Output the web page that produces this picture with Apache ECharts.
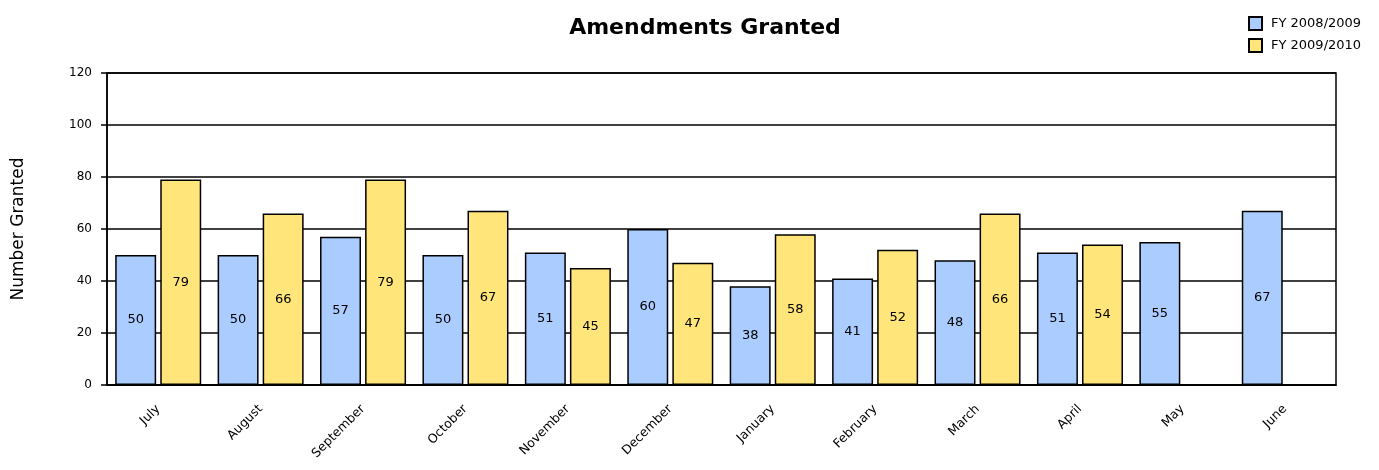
<!DOCTYPE html>
<html>
<head>
<meta charset="utf-8">
<script src="https://cdn.jsdelivr.net/npm/echarts@6/dist/echarts.min.js"></script>
<style>
  html, body { margin: 0; padding: 0; background: #fff; }
  #chart { width: 1379px; height: 470px; }
</style>
</head>
<body>
<div id="chart"></div>
<script>
// Monthly amendments granted, fiscal year order (July to June)
const months = ['July', 'August', 'September', 'October', 'November', 'December',
                'January', 'February', 'March', 'April', 'May', 'June'];
const fy0809 = [50, 50, 57, 50, 51, 60, 38, 41, 48, 51, 55, 67];
const fy0910 = [79, 66, 79, 67, 45, 47, 58, 52, 66, 54, null, null];
const seriesNames = ['FY 2008/2009', 'FY 2009/2010'];
const yTicks = { min: 0, max: 120, interval: 20 };

const FONT = '"DejaVu Sans", Verdana, sans-serif';

const barLabel = {
  show: true,
  position: 'inside',
  color: '#000',
  fontFamily: FONT,
  fontSize: 13
};

const chart = echarts.init(document.getElementById('chart'), null, { renderer: 'canvas' });
chart.setOption({
  animation: false,
  backgroundColor: '#fff',
  title: {
    text: 'Amendments Granted',
    left: 700,
    textAlign: 'center',
    top: 12,
    textStyle: { fontFamily: FONT, fontSize: 22, fontWeight: 'bold', color: '#000' }
  },
  legend: {
    orient: 'vertical',
    left: 1243,
    top: 11,
    itemWidth: 13,
    itemHeight: 13,
    itemGap: 7,
    icon: 'rect',
    textStyle: { fontFamily: FONT, fontSize: 13, color: '#000', padding: [0, 0, 0, 4] },
    data: seriesNames
  },
  grid: {
    left: 107, right: 43, top: 73, bottom: 85,
    show: true, borderColor: '#000', borderWidth: 1.5, backgroundColor: 'transparent'
  },
  xAxis: {
    type: 'category',
    data: months,
    boundaryGap: true,
    axisLine: { lineStyle: { color: '#000', width: 1.5 } },
    axisTick: { show: false },
    axisLabel: {
      rotate: 45, margin: 22, interval: 0, padding: [8, 0, 0, 0],
      fontFamily: FONT, fontSize: 12.5, color: '#000'
    }
  },
  yAxis: {
    type: 'value',
    min: yTicks.min, max: yTicks.max, interval: yTicks.interval,
    name: 'Number Granted',
    nameLocation: 'middle',
    nameRotate: 90,
    nameGap: 80,
    nameTextStyle: { fontFamily: FONT, fontSize: 17, color: '#000' },
    axisLine: { show: true, lineStyle: { color: '#000', width: 1.5 } },
    axisTick: { show: true, length: 6, lineStyle: { color: '#000', width: 1.5 } },
    axisLabel: { margin: 15, fontFamily: FONT, fontSize: 12, color: '#000' },
    splitLine: { show: true, lineStyle: { color: '#000', width: 1.5 } }
  },
  series: [
    {
      name: seriesNames[0],
      type: 'bar',
      data: fy0809,
      barCategoryGap: '16%',
      barGap: '10%',
      itemStyle: { color: '#aaccff', borderColor: '#000', borderWidth: 1.5 },
      label: barLabel
    },
    {
      name: seriesNames[1],
      type: 'bar',
      data: fy0910,
      barCategoryGap: '16%',
      barGap: '10%',
      itemStyle: { color: '#ffe57a', borderColor: '#000', borderWidth: 1.5 },
      label: barLabel
    }
  ]
});
</script>
</body>
</html>
